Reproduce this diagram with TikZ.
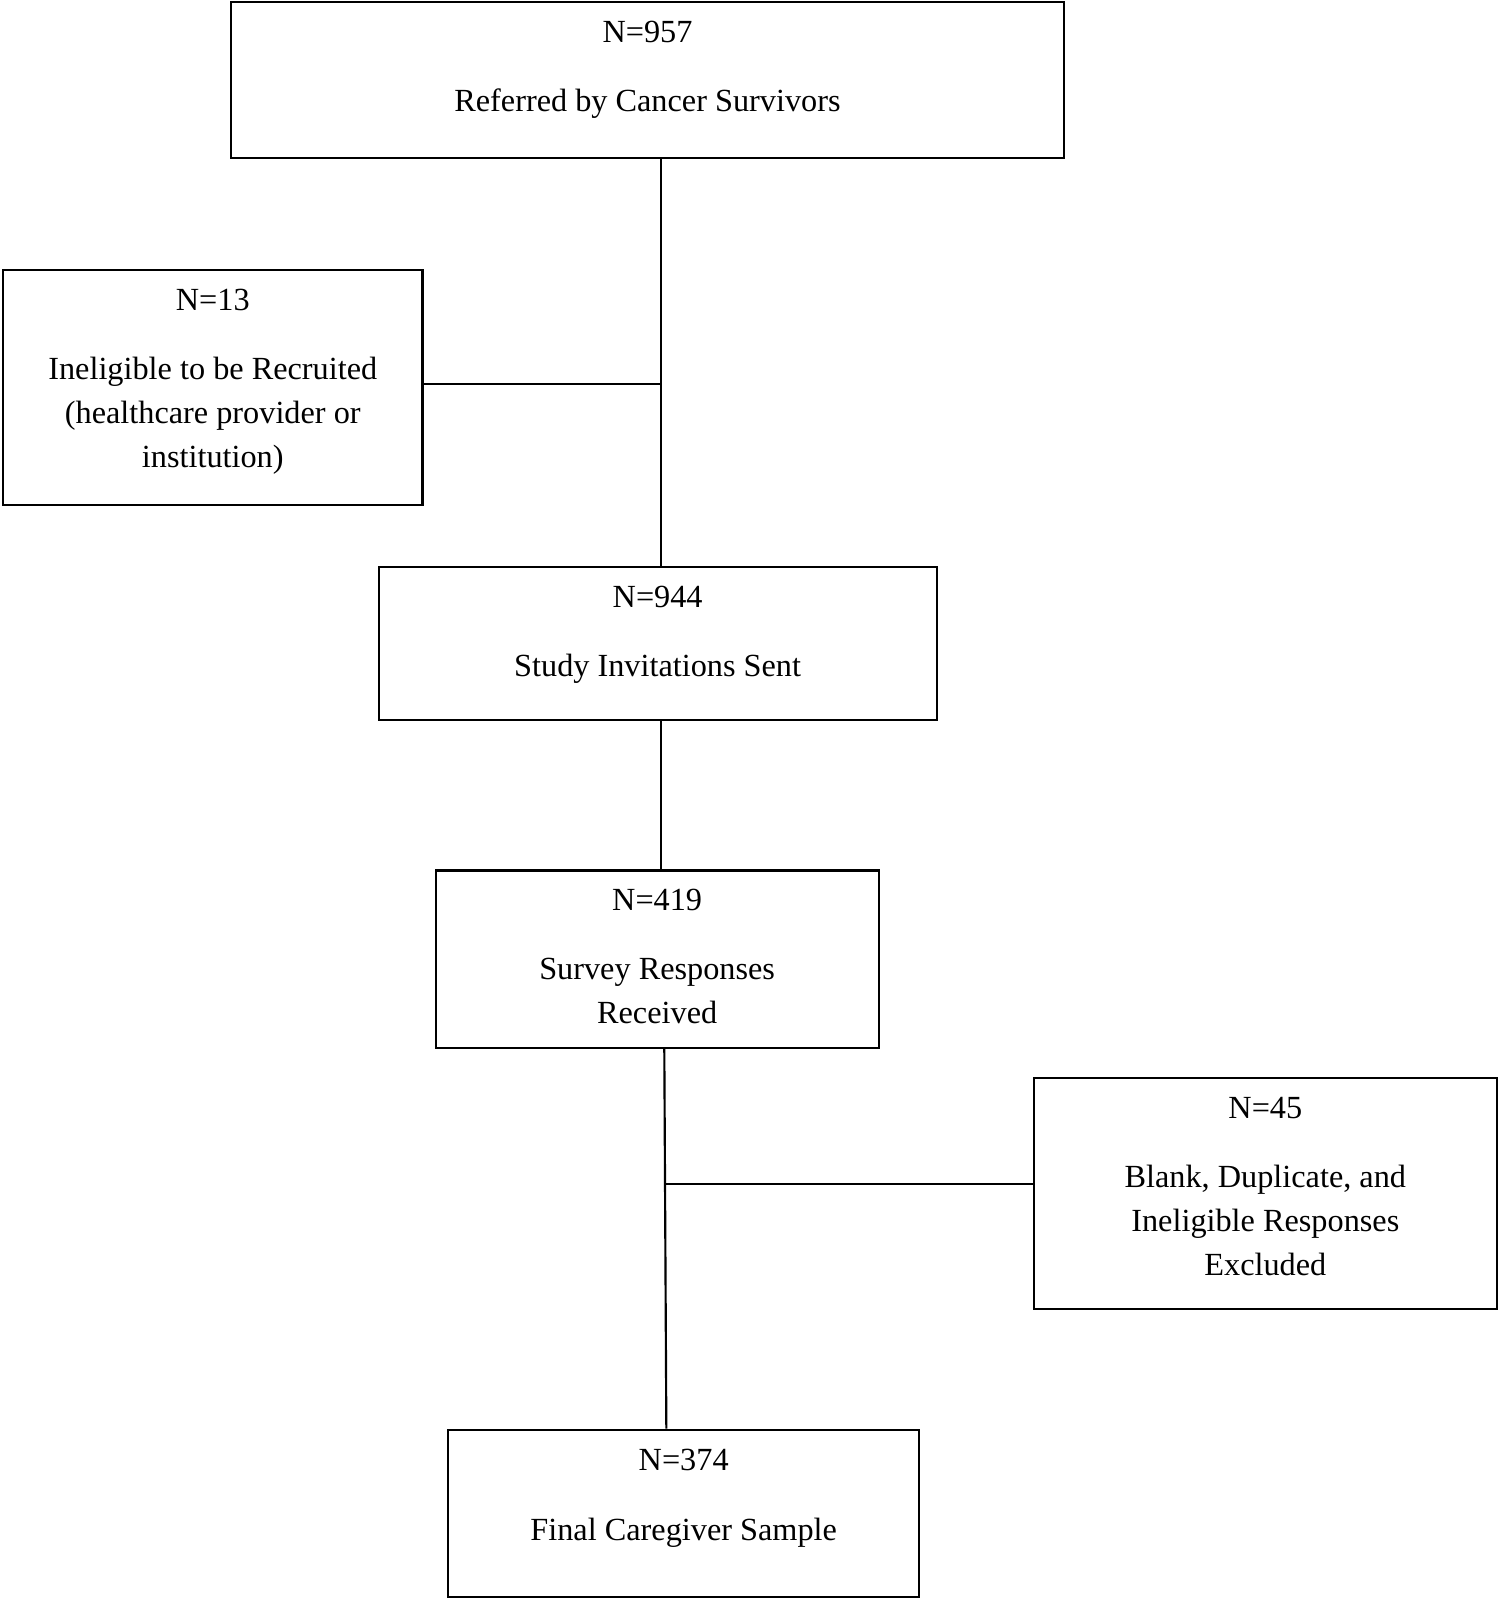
\documentclass[tikz,border=0pt]{standalone}
\usepackage{fontspec}
\setmainfont{Liberation Serif}
\begin{document}
\begin{tikzpicture}[x=0.02cm,y=-0.02cm,
    box/.style={draw,line width=1.2pt,inner sep=0,minimum width=#1},
    txt/.style={anchor=north,align=center,inner sep=0,font=\fontsize{18}{24.5}\selectfont}]
    \useasboundingbox (0,0) rectangle (1470,1567);

    % boxes
    \node[box=817*0.02cm,minimum height=153*0.02cm] (ref) at (634.5,78.5) {};
    \node[box=411*0.02cm,minimum height=230*0.02cm] (inel) at (208.5,380) {};
    \node[box=547*0.02cm,minimum height=150*0.02cm] (inv) at (644.5,631) {};
    \node[box=434*0.02cm,minimum height=174*0.02cm] (resp) at (644,940) {};
    \node[box=454*0.02cm,minimum height=227*0.02cm] (excl) at (1240,1169.5) {};
    \node[box=462*0.02cm,minimum height=164*0.02cm] (final) at (670,1483) {};

    % texts
    \node[txt] (ref-t) at (634.5,20) {N=957\\[0.5cm]Referred by Cancer Survivors};
    \node[txt] (inel-t) at (208.5,283) {N=13\\[0.5cm]Ineligible to be Recruited\\(healthcare provider or\\institution)};
    \node[txt] (inv-t) at (644.5,574) {N=944\\[0.5cm]Study Invitations Sent};
    \node[txt] (resp-t) at (644,871) {N=419\\[0.5cm]Survey Responses\\Received};
    \node[txt] (excl-t) at (1240,1075) {N=45\\[0.5cm]Blank, Duplicate, and\\Ineligible Responses\\Excluded};
    \node[txt] (final-t) at (670,1420) {N=374\\[0.5cm]Final Caregiver Sample};

    % connectors
    \coordinate (j1) at (648,376);
    \coordinate (j2) at (652,1160);
    \draw[line width=1.2pt] (ref.south -| 648,0) -- (inv.north -| 648,0);
    \draw[line width=1.2pt] (inel.east |- j1) -- (j1);
    \draw[line width=1.2pt] (inv.south -| 648,0) -- (resp.north -| 648,0);
    \draw[line width=1.2pt] (resp.south -| 651,0) -- (final.north -| 653,0);
    \draw[line width=1.2pt] (excl.west |- j2) -- (j2);
\end{tikzpicture}
\end{document}
